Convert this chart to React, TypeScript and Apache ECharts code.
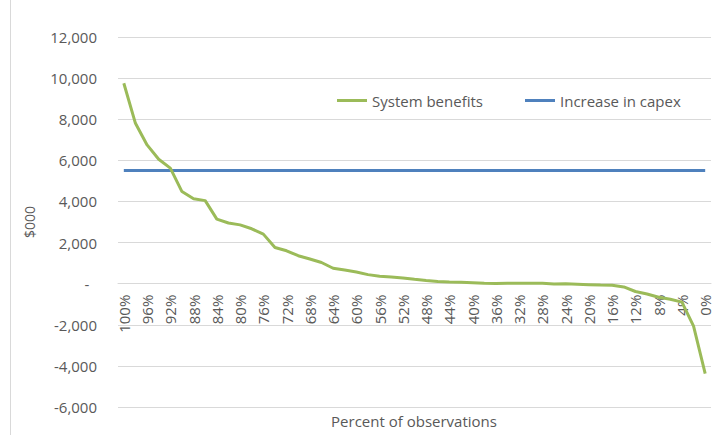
import React, { useEffect, useRef } from "react";
import * as echarts from "echarts";

// Share of observations, from 100% down to 0% in steps of 2%
const percentLabels: string[] = [
  "100%", "98%", "96%", "94%", "92%", "90%", "88%", "86%", "84%", "82%",
  "80%", "78%", "76%", "74%", "72%", "70%", "68%", "66%", "64%", "62%",
  "60%", "58%", "56%", "54%", "52%", "50%", "48%", "46%", "44%", "42%",
  "40%", "38%", "36%", "34%", "32%", "30%", "28%", "26%", "24%", "22%",
  "20%", "18%", "16%", "14%", "12%", "10%", "8%", "6%", "4%", "2%", "0%",
];

// System benefits ($000), sorted from highest to lowest
const systemBenefits: number[] = [
  9750, 7800, 6750, 6050, 5620, 4480, 4130, 4040, 3140, 2950,
  2860, 2670, 2410, 1760, 1600, 1360, 1200, 1030, 750, 660,
  570, 440, 360, 330, 280, 210, 150, 100, 80, 65,
  50, 20, 10, 20, 20, 20, 20, -20, -10, -30,
  -50, -70, -80, -160, -380, -500, -660, -760, -900, -2070, -4380,
];

// Increase in capex ($000), flat across all observations
const capexIncrease = 5500;
const capexSeries: number[] = percentLabels.map(() => capexIncrease);

const Y_MIN = -6000;
const Y_MAX = 12000;

const TEXT = "#595959";
const GRID = "#d9d9d9";
const FONT = "'Open Sans', sans-serif";

const GRID_TOP = 37;
const GRID_BOTTOM = 28;
const HEIGHT = 435;

export default function App() {
  const ref = useRef<HTMLDivElement>(null);

  useEffect(() => {
    if (!ref.current) return;
    const chart = echarts.init(ref.current, undefined, { renderer: "svg" });
    // Lift the category axis (and its labels) from the grid bottom up to the zero line
    const plotH = HEIGHT - GRID_TOP - GRID_BOTTOM;
    const zeroLift = (plotH * (0 - Y_MIN)) / (Y_MAX - Y_MIN);
    chart.setOption({
      animation: false,
      backgroundColor: "#ffffff",
      textStyle: { fontFamily: FONT },
      grid: {
        left: 118,
        right: 3,
        top: GRID_TOP,
        bottom: GRID_BOTTOM,
        containLabel: false,
        outerBoundsMode: "none",
      },
      legend: {
        left: 337,
        top: 93,
        padding: 0,
        icon: "rect",
        itemWidth: 30,
        itemHeight: 3,
        itemGap: 42,
        textStyle: { fontSize: 15, color: TEXT, fontFamily: FONT },
        data: ["System benefits", "Increase in capex"],
      },
      xAxis: {
        type: "category",
        data: percentLabels,
        boundaryGap: true,
        offset: -zeroLift,
        axisLine: { onZero: false, lineStyle: { color: GRID, width: 1 } },
        axisTick: { show: false },
        axisLabel: {
          rotate: 90,
          interval: 1,
          margin: 11,
          fontSize: 15,
          color: TEXT,
          fontFamily: FONT,
        },
        splitLine: { show: false },
      },
      yAxis: {
        type: "value",
        min: Y_MIN,
        max: Y_MAX,
        interval: 2000,
        name: "$000",
        nameLocation: "middle",
        nameGap: 82,
        nameRotate: 90,
        nameTextStyle: { fontSize: 14, color: TEXT, fontFamily: FONT },
        axisLine: { show: false },
        axisTick: { show: false },
        axisLabel: {
          margin: 21,
          fontSize: 15,
          color: TEXT,
          fontFamily: FONT,
          formatter: (v: number) => (v === 0 ? "-  " : v.toLocaleString("en-US")),
        },
        splitLine: { lineStyle: { color: GRID, width: 1 } },
      },
      graphic: [
        {
          type: "line",
          shape: { x1: 10.5, y1: 0, x2: 10.5, y2: 435 },
          style: { stroke: GRID, lineWidth: 1 },
        },
        {
          type: "text",
          x: 414,
          y: 421,
          style: {
            text: "Percent of observations",
            textAlign: "center",
            textVerticalAlign: "middle",
            fontSize: 15,
            fill: TEXT,
            fontFamily: FONT,
          },
        },
      ],
      series: [
        {
          name: "System benefits",
          type: "line",
          data: systemBenefits,
          symbol: "none",
          color: "#9BBB59",
          lineStyle: { color: "#9BBB59", width: 3 },
          z: 3,
        },
        {
          name: "Increase in capex",
          type: "line",
          data: capexSeries,
          symbol: "none",
          color: "#4F81BD",
          lineStyle: { color: "#4F81BD", width: 3 },
          z: 2,
        },
      ],
    });
    return () => chart.dispose();
  }, []);

  return (
    <div
      ref={ref}
      style={{ position: "fixed", left: 0, top: 0, width: 714, height: 435 }}
    />
  );
}
